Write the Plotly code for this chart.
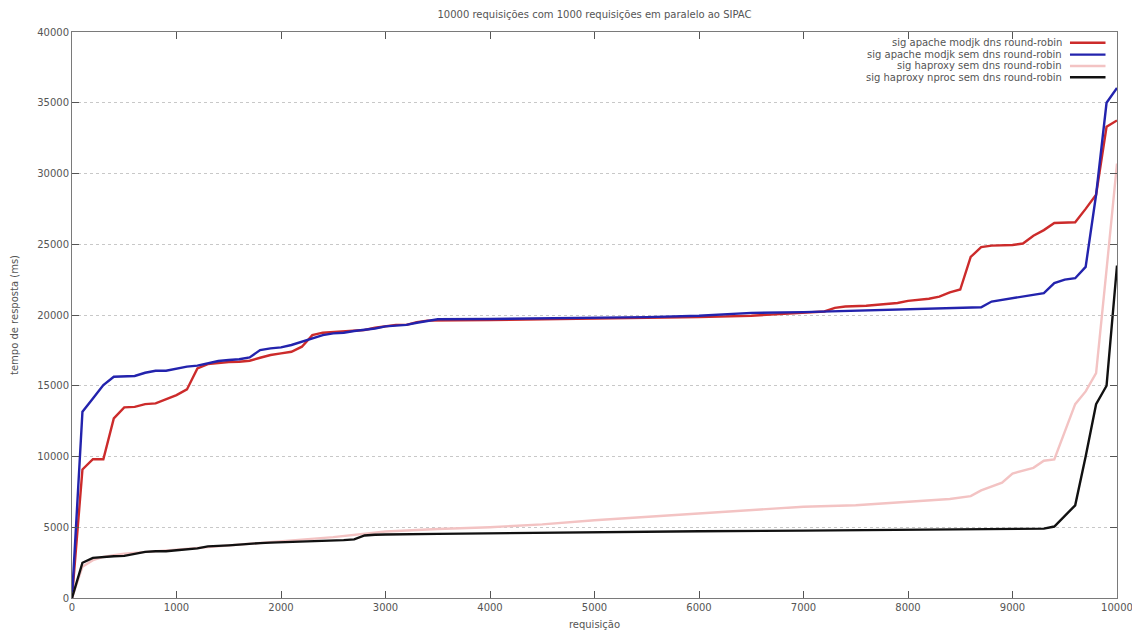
import plotly.graph_objects as go

# ---- data ----
series_names = [
    "sig apache modjk dns round-robin",
    "sig apache modjk sem dns round-robin",
    "sig haproxy sem dns round-robin",
    "sig haproxy nproc sem dns round-robin",
]

red_x = [0, 100, 200, 300, 400, 500, 600, 700, 800, 900, 1000, 1100, 1200, 1300, 1400, 1500,
         1600, 1700, 1800, 1900, 2000, 2100, 2200, 2300, 2400, 2500, 2600, 2700, 2800, 2900,
         3000, 3100, 3200, 3300, 3400, 3500, 4000, 4500, 5000, 5500, 6000, 6500, 7000, 7200,
         7300, 7400, 7600, 7800, 7900, 8000, 8200, 8300, 8400, 8500, 8600, 8700, 8800, 9000,
         9100, 9200, 9300, 9400, 9600, 9700, 9800, 9900, 10000]
red_y = [0, 9080, 9810, 9810, 12690, 13470, 13510, 13700, 13750, 14030, 14340, 14740, 16230,
         16530, 16630, 16680, 16700, 16770, 16980, 17170, 17290, 17400, 17760, 18580, 18750,
         18800, 18820, 18900, 18940, 19100, 19200, 19300, 19300, 19500, 19600, 19600, 19650,
         19700, 19750, 19780, 19850, 19950, 20150, 20250, 20500, 20600, 20650, 20750, 20850,
         21000, 21150, 21300, 21600, 21800, 24100, 24800, 24900, 24950, 25050, 25600, 26000,
         26500, 26550, 27500, 28500, 33300, 33750]

blue_x = [0, 100, 200, 300, 400, 500, 600, 700, 800, 900, 1000, 1100, 1200, 1300, 1400, 1500,
          1600, 1700, 1800, 1900, 2000, 2100, 2200, 2300, 2400, 2500, 2600, 2700, 2800, 2900,
          3000, 3200, 3300, 3400, 3500, 4000, 4500, 5000, 5500, 6000, 6200, 6500, 7000, 7500,
          8000, 8500, 8700, 8800, 9000, 9150, 9300, 9400, 9500, 9600, 9700, 9800, 9900, 10000]
blue_y = [0, 13160, 14100, 15050, 15640, 15690, 15690, 15920, 16060, 16060, 16230, 16350,
          16420, 16580, 16750, 16820, 16870, 17000, 17520, 17640, 17710, 17880, 18110, 18350,
          18580, 18700, 18750, 18870, 18940, 19050, 19200, 19300, 19450, 19600, 19700, 19720,
          19760, 19800, 19850, 19950, 20050, 20150, 20200, 20300, 20400, 20500, 20550, 20950,
          21200, 21350, 21550, 22250, 22500, 22600, 23400, 28500, 35000, 36050]

pink_x = [0, 100, 200, 300, 400, 500, 1000, 1500, 2000, 2500, 3000, 3500, 4000, 4500, 5000,
          5500, 6000, 6500, 7000, 7500, 8000, 8200, 8400, 8600, 8700, 8900, 9000, 9200, 9300,
          9400, 9600, 9700, 9800, 9900, 10000]
pink_y = [0, 2210, 2670, 2900, 3020, 3140, 3420, 3720, 4020, 4300, 4700, 4880, 5000, 5200,
          5500, 5750, 6000, 6200, 6450, 6550, 6800, 6900, 7000, 7200, 7600, 8150, 8800, 9200,
          9700, 9800, 13700, 14600, 15900, 23200, 30700]

black_x = [0, 100, 200, 300, 400, 500, 600, 700, 800, 900, 1000, 1100, 1200, 1300, 1400, 1500,
           1600, 1700, 1800, 1900, 2000, 2100, 2200, 2300, 2400, 2500, 2600, 2700, 2800, 2900,
           3000, 3500, 4000, 4500, 5000, 6000, 7000, 8000, 8500, 9000, 9300, 9400, 9600, 9700,
           9800, 9900, 10000]
black_y = [0, 2490, 2840, 2910, 2950, 2980, 3140, 3260, 3300, 3300, 3370, 3420, 3510, 3650,
           3670, 3720, 3770, 3840, 3880, 3910, 3930, 3950, 3980, 4020, 4050, 4070, 4090, 4140,
           4420, 4470, 4490, 4535, 4580, 4630, 4680, 4720, 4760, 4800, 4830, 4850, 4900, 5050,
           6550, 10000, 13700, 15000, 23500]

x_ticks = [0, 1000, 2000, 3000, 4000, 5000, 6000, 7000, 8000, 9000, 10000]
y_ticks = [0, 5000, 10000, 15000, 20000, 25000, 30000, 35000, 40000]

title_text = "10000 requisições com 1000 requisições em paralelo ao SIPAC"
x_title = "requisição"
y_title = "tempo de resposta (ms)"

colors = ["#cc2b2b", "#2323ad", "#f3c3c3", "#111111"]
xs = [red_x, blue_x, pink_x, black_x]
ys = [red_y, blue_y, pink_y, black_y]

FONT = "DejaVu Sans"
TXT = "#555555"

fig = go.Figure()
for name, x, y, c in zip(series_names, xs, ys, colors):
    fig.add_trace(go.Scatter(x=x, y=y, mode="lines", name=name,
                             line=dict(color=c, width=2.4), showlegend=False))

# gnuplot-style legend: right-aligned labels with line sample on the right
row_y = [0.981, 0.960, 0.940, 0.920]
for name, c, ry in zip(series_names, colors, row_y):
    fig.add_annotation(x=0.949, y=ry, xref="paper", yref="paper", text=name,
                       showarrow=False, xanchor="right", yanchor="middle",
                       font=dict(family=FONT, size=10, color=TXT))
    fig.add_shape(type="line", xref="paper", yref="paper", x0=0.955, x1=0.989,
                  y0=ry, y1=ry, line=dict(color=c, width=2.4))

axis_common = dict(showline=True, linecolor="#7a7a7a", linewidth=1, mirror="ticks",
                   ticks="inside", ticklen=7, tickcolor="#555555", zeroline=False,
                   ticklabeloverflow="allow", automargin=False,
                   tickfont=dict(family=FONT, size=10, color=TXT))

fig.update_layout(
    width=1132, height=634,
    margin=dict(l=72, r=15, t=32, b=36),
    paper_bgcolor="white", plot_bgcolor="white",
    font=dict(family=FONT, size=10, color=TXT),
    title=dict(text=title_text, x=(72 + 1117) / 2 / 1132, xanchor="center",
               y=1 - 14 / 634, yref="container", yanchor="middle",
               font=dict(family=FONT, size=10, color=TXT)),
    xaxis=dict(range=[0, 10000], tickvals=x_ticks, ticktext=[str(v) for v in x_ticks],
               showgrid=False,
               title=dict(text=x_title, standoff=8, font=dict(family=FONT, size=10, color=TXT)),
               **axis_common),
    yaxis=dict(range=[0, 40000], tickvals=y_ticks, ticktext=[str(v) for v in y_ticks],
               showgrid=True, gridcolor="#c8c8c8", griddash="dot", gridwidth=1,
               title=dict(text=y_title, standoff=16, font=dict(family=FONT, size=10, color=TXT)),
               **axis_common),
)

fig.write_html("out.html", config={"displayModeBar": False},
               post_script="document.body.style.margin='0';")
